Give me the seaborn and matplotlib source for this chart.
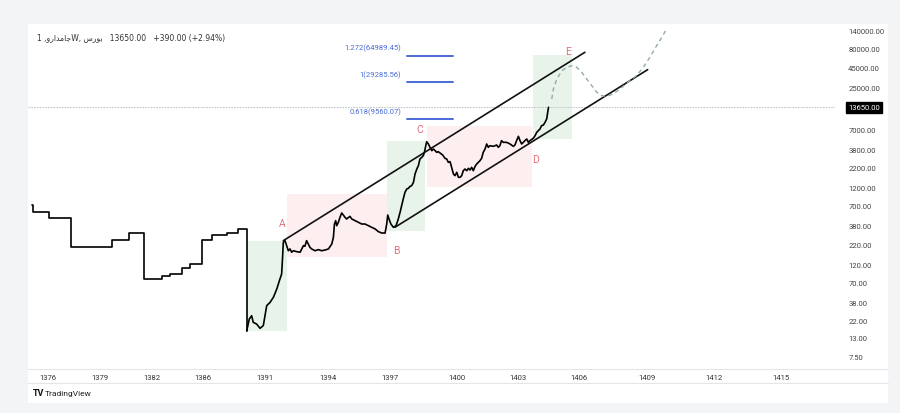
import numpy as np
import pandas as pd
import matplotlib
matplotlib.use("Agg")
import matplotlib.pyplot as plt
import seaborn as sns
from matplotlib.patches import Rectangle
from matplotlib.lines import Line2D

# ---------------- data ----------------
# early (halted, sparse) segment drawn as steps
halt_years = [1375.10, 1375.13, 1376.06, 1377.33, 1379.69, 1380.67, 1381.54, 1382.78,
              1383.41, 1384.35, 1384.98, 1385.92, 1386.73, 1387.93, 1388.82, 1389.52]
halt_prices = [716, 580, 483, 201, 249, 307, 76.7, 83.9,
               89, 107, 120, 249, 289, 307, 347, 16.0]

trade_years = [1389.52, 1389.73, 1389.92, 1390.05, 1390.32, 1390.60, 1390.86, 1391.08, 1391.24,
               1391.40, 1391.56, 1391.71, 1391.79, 1391.84,
               1391.87, 1391.95, 1392.03, 1392.11, 1392.19, 1392.27, 1392.35, 1392.51, 1392.67,
               1392.75, 1392.83, 1392.90, 1392.98, 1393.06, 1393.14, 1393.22, 1393.38, 1393.54,
               1393.70, 1393.86, 1394.02, 1394.18, 1394.26, 1394.31, 1394.37, 1394.42, 1394.50,
               1394.58, 1394.66, 1394.74, 1394.82, 1394.90, 1395.06, 1395.15, 1395.31, 1395.47,
               1395.63, 1395.79, 1395.96, 1396.12, 1396.28, 1396.44, 1396.60, 1396.76, 1396.84,
               1396.89, 1396.95, 1397.04, 1397.15, 1397.27, 1397.37, 1397.45, 1397.52, 1397.60,
               1397.67, 1397.75, 1397.82, 1397.90, 1397.97, 1398.05, 1398.12, 1398.20, 1398.27,
               1398.34, 1398.42, 1398.49, 1398.54, 1398.60, 1398.64, 1398.72, 1398.79, 1398.87,
               1398.94, 1399.02, 1399.09, 1399.16, 1399.24, 1399.36, 1399.46, 1399.54, 1399.61,
               1399.69, 1399.76, 1399.84, 1399.91, 1399.99, 1400.07, 1400.15, 1400.23, 1400.31,
               1400.39, 1400.48, 1400.56, 1400.64, 1400.72, 1400.80, 1400.89, 1400.97, 1401.05,
               1401.13, 1401.21, 1401.29, 1401.38, 1401.46, 1401.54, 1401.62, 1401.79, 1401.95,
               1402.03, 1402.11, 1402.19, 1402.28, 1402.44, 1402.61, 1402.77, 1402.85, 1402.93,
               1403.02, 1403.10, 1403.18, 1403.26, 1403.34, 1403.43, 1403.51, 1403.59, 1403.75,
               1403.84, 1403.92, 1404.00, 1404.08, 1404.16, 1404.25, 1404.33, 1404.41, 1404.45,
               1404.50]
trade_prices = [16.0, 22.9, 25.3, 20.7, 19.7, 17.3, 18.8, 34.3, 37.9,
                44.2, 56.8, 76.7, 89, 155,
                232, 244, 210, 180, 190, 172, 180, 175, 172,
                190, 210, 206, 244, 220, 199, 190, 180, 186,
                180, 184, 190, 220, 270, 403, 446, 383, 424,
                493, 562, 529, 493, 469, 508, 469, 446, 424,
                403, 403, 383, 365, 347, 320, 307, 307, 403,
                529, 469, 403, 365, 383, 469, 574, 701, 875,
                1049, 1160, 1183, 1257, 1282, 1418, 1823, 2120, 2344,
                2867, 3015, 3171, 3506, 4287, 4836, 4508, 4077, 3686,
                3877, 3686, 3506, 3577, 3436, 3235, 2926, 2867, 2593,
                2645, 2229, 1823, 1734, 1918, 1649, 1649, 1734, 2016,
                2120, 2016, 2163, 2057, 2229, 2016, 2298, 2466, 2593,
                2726, 2926, 3506, 3877, 4508, 4077, 4287, 4202, 4374,
                4077, 4287, 4985, 4741, 4741, 4508, 4202, 4374, 4985,
                5682, 4985, 4508, 4741, 4985, 5243, 4741, 4985, 5350,
                5798, 6412, 6742, 7089, 7838, 7998, 8670, 9587, 11300,
                13650]

# projected path (dashed)
proj_years = [1404.66, 1404.74, 1404.91, 1405.16, 1405.40, 1405.65, 1405.89, 1406.12, 1406.34,
              1406.56, 1406.78, 1407.00, 1407.22, 1407.51, 1407.81, 1408.25, 1408.54, 1408.84,
              1409.13, 1409.43, 1409.66, 1409.88]
proj_prices = [17540, 23700, 32060, 41200, 45600, 47900, 45600, 39300, 32060,
               26300, 21500, 19400, 19000, 20400, 23700, 30500, 35500, 45600,
               61700, 87500, 112700, 145000]

# channel lines
upper_years = [1391.87, 1406.26]
upper_prices = [244, 71800]
lower_years = [1397.22, 1409.03]
lower_prices = [365, 42500]

# fibonacci levels
fib_names = ["1.272(64989.45)", "1(29285.56)", "0.618(9560.07)"]
fib_values = [64989.45, 29285.56, 9560.07]
fib_start, fib_end = 1397.75, 1399.84

# wave labels
wave_names = ["A", "B", "C", "D", "E"]
wave_years = [1391.81, 1397.27, 1398.34, 1403.84, 1405.46]
wave_prices = [416, 184, 7100, 2864, 74700]

# highlight boxes
box_year0 = [1389.52, 1392.03, 1396.84, 1398.64, 1403.75]
box_year1 = [1392.03, 1396.84, 1398.57, 1403.67, 1405.67]
box_low = [16.2, 148, 330, 1223, 5250]
box_high = [244, 998, 4980, 7830, 66100]
box_kind = ["up", "down", "up", "down", "up"]

last_price = 13650
header = ("1 ,\uFEED\uFEAD\uFE8D\uFEAA\uFEE3\uFE8E\uFE9FW, \uFEB1\uFEAD\uFEEE\uFE91"
          "   13650.00   +390.00 (+2.94%)")

x_tick_years = [1376, 1379, 1382, 1386, 1391, 1394, 1397, 1400, 1403, 1406, 1409, 1412, 1415]
y_tick_values = [140000, 80000, 45000, 25000, 7000, 3800, 2200, 1200, 700, 380, 220,
                 120, 70, 38, 22, 13, 7.5]

# ---------------- styling ----------------
sns.set_theme(style="white")
plt.rcParams["font.family"] = ["Roboto", "DejaVu Sans"]

# TradingView-like compressed time axis (anchor years -> screen units)
axis_years = [1374, 1376, 1379, 1382, 1386, 1391, 1394, 1397, 1400, 1403, 1406, 1409, 1412, 1415, 1418]
axis_units = [13.4, 48, 100, 152, 203, 265, 328, 390, 457, 518, 579, 647, 714, 781, 848]


def fwd(v):
    return np.interp(v, axis_years, axis_units)


def inv(u):
    return np.interp(u, axis_units, axis_years)


W, H = 900, 414
fig = plt.figure(figsize=(W / 100, H / 100), dpi=100, facecolor="#f3f4f6")
fig.patches.append(Rectangle((28 / W, 1 - 404 / H), (888 - 28) / W, (404 - 25) / H,
                             transform=fig.transFigure, fc="white", ec="none", zorder=-10))
for yy in (370, 384):
    fig.lines.append(Line2D([28 / W, 888 / W], [1 - yy / H, 1 - yy / H],
                            transform=fig.transFigure, color="#e3e5ea", lw=0.8, zorder=-5))

ax = fig.add_axes([28 / W, 1 - 370 / H, (835 - 28) / W, (370 - 25) / H])
ax.set_zorder(5)
ax.set_facecolor("none")
ax.set_xscale("function", functions=(fwd, inv))
ax.set_yscale("log")
for s in ax.spines.values():
    s.set_visible(False)

# boxes
for x0, x1, lo, hi, k in zip(box_year0, box_year1, box_low, box_high, box_kind):
    ax.add_patch(Rectangle((x0, lo), x1 - x0, hi - lo,
                           fc="#e8f4ea" if k == "up" else "#fdeff0", ec="none", zorder=1))

# last price dotted line
ax.axhline(last_price, color="#c4c7ce", lw=0.8, ls=(0, (1.5, 1.0)), zorder=2)

# fib levels
for name, val in zip(fib_names, fib_values):
    ax.plot([fib_start, fib_end], [val, val], color="#4a6bd6", lw=1.4, zorder=3)
    ax.annotate(name, xy=(fib_start, val), xytext=(-4, 3), textcoords="offset points",
                ha="right", va="bottom", fontsize=5.5, color="#4a6bd6")

# price
halt_df = pd.DataFrame({"year": halt_years, "price": halt_prices})
trade_df = pd.DataFrame({"year": trade_years, "price": trade_prices})
sns.lineplot(data=halt_df, x="year", y="price", ax=ax, color="black", lw=1.2,
             drawstyle="steps-post", estimator=None, sort=False, zorder=4)
sns.lineplot(data=trade_df, x="year", y="price", ax=ax, color="black", lw=1.2,
             estimator=None, sort=False, zorder=4)

# channel
sns.lineplot(x=upper_years, y=upper_prices, ax=ax, color="#111111", lw=1.2, zorder=4)
sns.lineplot(x=lower_years, y=lower_prices, ax=ax, color="#111111", lw=1.2, zorder=4)

# projection
sns.lineplot(x=proj_years, y=proj_prices, ax=ax, color="#93abab", lw=1.0,
             linestyle=(0, (3, 2.5)), estimator=None, sort=False, zorder=4)

# wave labels
for n, xv, yv in zip(wave_names, wave_years, wave_prices):
    ax.text(xv, yv, n, fontsize=7.5, color="#e0707a", ha="center", va="center", zorder=5)

ax.set_xlim(1374.84, 1417.42)
ax.set_ylim(5.07, 168600)

# axes ticks
ax.set_xticks(x_tick_years)
ax.set_xticklabels([str(y) for y in x_tick_years])
ax.set_yticks(y_tick_values)
ax.set_yticklabels([f"{v:.2f}" for v in y_tick_values])
ax.yaxis.set_minor_locator(matplotlib.ticker.NullLocator())
ax.yaxis.tick_right()
ax.tick_params(axis="y", length=0, pad=9.5, labelsize=5.5, labelcolor="#444444")
ax.tick_params(axis="x", length=0, pad=3.5, labelsize=5.5, labelcolor="#333333")
for lab in ax.get_yticklabels():
    lab.set_horizontalalignment("left")
ax.set_xlabel("")
ax.set_ylabel("")
ax.grid(False)

# last price tag
ax.annotate(f"{last_price:.2f}", xy=(1, last_price), xycoords=("axes fraction", "data"),
            xytext=(9.5, 0), textcoords="offset points", ha="left", va="center",
            fontsize=5.5, color="white",
            bbox=dict(boxstyle="square,pad=0.3", fc="black", ec="black"))

# header and logo
fig.text(37 / W, 1 - 38 / H, header, fontsize=5.5, color="#333333", ha="left", va="center",
         family=["DejaVu Sans"])
fig.text(33 / W, 1 - 394 / H, "TV", fontsize=6.5, fontweight="bold", color="#111111",
         ha="left", va="center")
fig.text(45 / W, 1 - 394 / H, "TradingView", fontsize=6, color="#222222",
         ha="left", va="center")

fig.savefig("out.png", dpi=100, facecolor=fig.get_facecolor())
